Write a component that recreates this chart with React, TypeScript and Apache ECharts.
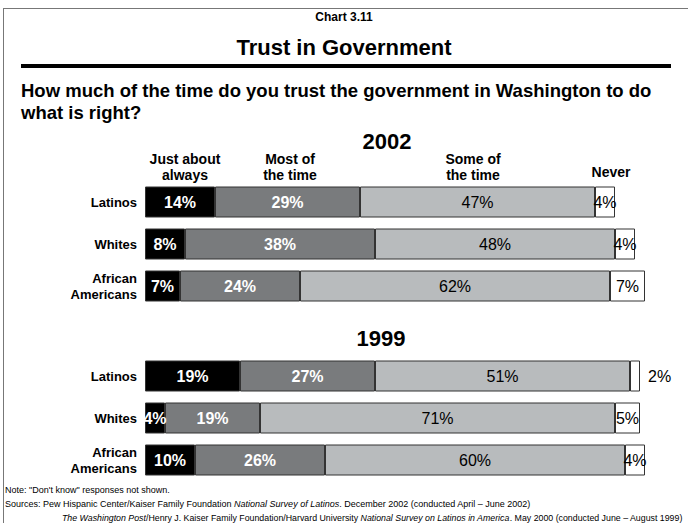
import React, { useEffect, useRef } from "react";
import * as echarts from "echarts";

const groups = ["Latinos", "Whites", "African\nAmericans"];
const responses = ["Just about always", "Most of the time", "Some of the time", "Never"];
const responseHeaders = ["Just about\nalways", "Most of\nthe time", "Some of\nthe time", "Never"];
const years = ["2002", "1999"];

const always2002 = [14, 8, 7];
const most2002 = [29, 38, 24];
const some2002 = [47, 48, 62];
const never2002 = [4, 4, 7];

const always1999 = [19, 4, 10];
const most1999 = [27, 19, 26];
const some1999 = [51, 71, 60];
const never1999 = [2, 5, 4];

const FONT = "'Liberation Sans', Arial, Helvetica, sans-serif";
const segColors = ["#000000", "#797b7d", "#b8bbbd", "#ffffff"];
const labelColors = ["#ffffff", "#ffffff", "#000000", "#000000"];
const labelWeights = ["bold", "bold", "normal", "normal"];

export default function App() {
  const ref = useRef<HTMLDivElement>(null);
  useEffect(() => {
    if (!ref.current) return;
    const chart = echarts.init(ref.current, null, { renderer: "svg" });
    const byYear = [
      [always2002, most2002, some2002, never2002],
      [always1999, most1999, some1999, never1999],
    ];
    const series: any[] = [];
    byYear.forEach((sets, gi) => {
      sets.forEach((vals, si) => {
        series.push({
          type: "bar",
          name: responses[si],
          xAxisIndex: gi,
          yAxisIndex: gi,
          stack: "s" + years[gi],
          barWidth: 31,
          itemStyle: { color: segColors[si], borderColor: "#333", borderWidth: 1 },
          label: {
            show: true,
            position: "inside",
            formatter: "{c}%",
            color: labelColors[si],
            fontWeight: labelWeights[si],
            fontSize: 16,
            fontFamily: FONT,
          },
          data: vals.map((v) =>
            v < 3
              ? { value: v, label: { position: "right", distance: 8 } }
              : v
          ),
        });
      });
    });

    const grids = [
      { left: 145, width: 500, top: 181, height: 126 },
      { left: 145, width: 500, top: 355, height: 126 },
    ];

    const headerX = [185, 290, 473, 611];
    const graphic: any[] = [
      { type: "line", shape: { x1: 3.5, y1: 8, x2: 3.5, y2: 523 }, style: { stroke: "#777", lineWidth: 1 } },
      { type: "line", shape: { x1: 3, y1: 8.5, x2: 688, y2: 8.5 }, style: { stroke: "#777", lineWidth: 1 } },
      { type: "rect", shape: { x: 21, y: 64, width: 650, height: 4 }, style: { fill: "#000" } },
      {
        type: "text", x: 344, y: 17,
        style: { text: "Chart 3.11", fontFamily: FONT, fontWeight: "bold", fontSize: 12, fill: "#000", align: "center", verticalAlign: "middle" },
      },
      {
        type: "text", x: 344, y: 47,
        style: { text: "Trust in Government", fontFamily: FONT, fontWeight: "bold", fontSize: 22, fill: "#000", align: "center", verticalAlign: "middle" },
      },
      {
        type: "text", x: 21, y: 101,
        style: {
          text: "How much of the time do you trust the government in Washington to do\nwhat is right?",
          fontFamily: FONT, fontWeight: "bold", fontSize: 18.5, lineHeight: 22, fill: "#000", align: "left", verticalAlign: "middle",
        },
      },
      {
        type: "text", x: 387, y: 141,
        style: { text: years[0], fontFamily: FONT, fontWeight: "bold", fontSize: 22, fill: "#000", align: "center", verticalAlign: "middle" },
      },
      {
        type: "text", x: 381, y: 338,
        style: { text: years[1], fontFamily: FONT, fontWeight: "bold", fontSize: 22, fill: "#000", align: "center", verticalAlign: "middle" },
      },
      ...responseHeaders.map((h, i) => ({
        type: "text", x: headerX[i], y: i === 3 ? 172 : 167,
        style: { text: h, fontFamily: FONT, fontWeight: "bold", fontSize: 14, lineHeight: 16, fill: "#000", align: "center", verticalAlign: "middle" },
      })),
      {
        type: "text", x: 5, y: 490,
        style: { text: "Note: \"Don't know\" responses not shown.", fontFamily: FONT, fontSize: 9, fill: "#000", verticalAlign: "middle" },
      },
      {
        type: "text", x: 5, y: 504,
        style: {
          text: "Sources: Pew Hispanic Center/Kaiser Family Foundation {i|National Survey of Latinos}. December 2002 (conducted April – June 2002)",
          rich: { i: { fontStyle: "italic", fontFamily: FONT, fontSize: 9 } },
          fontFamily: FONT, fontSize: 9, fill: "#000", verticalAlign: "middle",
        },
      },
      {
        type: "text", x: 62, y: 518,
        style: {
          text: "{i|The Washington Post}/Henry J. Kaiser Family Foundation/Harvard University {i|National Survey on Latinos in America}. May 2000 (conducted June – August 1999)",
          rich: { i: { fontStyle: "italic", fontFamily: FONT, fontSize: 8.8 } },
          fontFamily: FONT, fontSize: 8.8, fill: "#000", verticalAlign: "middle",
        },
      },
    ];

    chart.setOption({
      animation: false,
      backgroundColor: "#ffffff",
      textStyle: { fontFamily: FONT },
      grid: grids,
      xAxis: grids.map((_, i) => ({
        type: "value", gridIndex: i, min: 0, max: 100, show: false,
      })),
      yAxis: grids.map((_, i) => ({
        type: "category", gridIndex: i, inverse: true, data: groups,
        axisLine: { show: false }, axisTick: { show: false }, splitLine: { show: false },
        axisLabel: { color: "#000", fontWeight: "bold", fontSize: 13, fontFamily: FONT, margin: 8, lineHeight: 16, align: "right" },
      })),
      series,
      graphic,
    });
    return () => chart.dispose();
  }, []);
  return <div ref={ref} style={{ position: "fixed", left: 0, top: 0, width: 688, height: 523 }} />;
}
